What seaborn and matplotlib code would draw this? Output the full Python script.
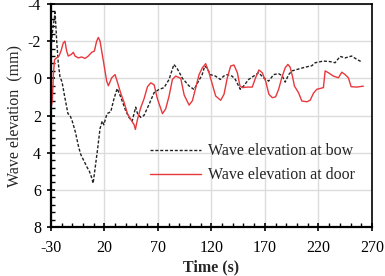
import numpy as np
import pandas as pd
import matplotlib
matplotlib.use("Agg")
import matplotlib.pyplot as plt
from matplotlib.ticker import MultipleLocator
import seaborn as sns

# ---- data ----
bow_t = [-30, -28.5, -26, -24.5, -23, -21.5, -19.5, -17, -14, -12, -10, -7, -4, -2, 1, 4, 6,
         8.5, 9.5, 11, 13.5, 16, 18, 19.5, 22.5, 26, 29, 32, 35.3, 40, 43, 46, 49.3, 51, 54,
         57, 61.8, 66.5, 71, 75.8, 80.5, 85, 88.3, 93, 99, 103.8, 108.5, 111.4, 113.8, 116,
         119, 123.8, 128.4, 131.5, 134.7, 139.3, 142.4, 147, 150.2, 154.8, 159.5, 164.2,
         168.8, 173.5, 178.2, 182.8, 186, 189, 192.2, 195.3, 201.4, 207.6, 213.9, 217,
         224.7, 231, 235.6, 240.3, 245, 251, 256, 260.5]
bow_y = [-1.4, -2.5, -3.55, -2.0, -0.8, -0.1, 0.2, 1.0, 1.9, 2.0, 2.3, 2.9, 3.7, 4.1, 4.45,
         4.8, 5.0, 5.4, 5.65, 5.0, 3.9, 2.7, 2.3, 2.5, 1.9, 1.8, 1.1, 0.55, 1.0, 1.75, 2.1,
         2.3, 1.55, 1.9, 2.1, 2.0, 1.4, 0.77, 0.6, 0.5, 0.06, -0.75, -0.5, 0.0, 0.4, 0.6,
         0.1, -0.2, -0.66, -0.55, -0.2, -0.12, 0.06, -0.12, -0.2, -0.12, 0.06, 0.59, 0.41,
         0.06, -0.12, -0.3, -0.03, 0.15, -0.2, -0.25, -0.15, 0.2, -0.2, -0.4, -0.5, -0.6,
         -0.68, -0.84, -0.93, -0.9, -0.84, -1.18, -1.1, -1.2, -1.02, -0.88]

door_t = [-30, -29.5, -28.6, -27.5, -26.5, -24.6, -22.4, -20.5, -18.4, -16.8, -15.2, -13.7,
          -10.6, -9, -7.4, -4.3, -1.2, 2, 5, 8.2, 10.7, 12.8, 14.4, 16, 19.1, 22.2, 23.8,
          26.9, 30, 32.2, 35.3, 38.5, 41.6, 44.6, 47.8, 49, 51, 54, 57.1, 60.3, 63.4, 66.5,
          69.6, 74.3, 77.3, 80.5, 83.6, 86.7, 91.4, 94.6, 99.2, 102.3, 105.4, 108.5, 111.6,
          114.7, 117.8, 120.9, 124, 128.7, 131.8, 134.9, 138, 141.1, 144.3, 146.7, 148.9,
          153.6, 158.2, 161.3, 164.4, 167.6, 170.7, 173.8, 176.9, 180, 182.8, 185.9, 189,
          191.5, 193.6, 195.8, 197.6, 201.4, 204.5, 209.2, 212.3, 215.4, 218.5, 224.7, 226.3,
          229.4, 234, 238.7, 241.9, 245, 248, 250.6, 255.9, 262]
door_y = [0.3, 1.5, 1.2, -0.3, -1.0, -1.1, -1.2, -1.47, -1.9, -2.0, -1.47, -1.2, -1.3, -1.4,
          -1.2, -1.1, -1.15, -1.07, -1.2, -1.4, -1.47, -2.0, -2.2, -2.0, -0.93, 0.15, 0.4,
          -0.03, -0.2, 0.2, 0.8, 1.3, 1.9, 2.2, 2.5, 2.75, 2.2, 1.58, 1.1, 0.45, 0.24, 0.35,
          1.1, 1.9, 1.65, 0.95, 0.06, -0.12, 0.0, 0.9, 1.44, 1.2, 0.5, -0.2, -0.57, -0.79,
          -0.3, 0.32, 0.95, 1.18, 0.86, -0.03, -0.66, -0.72, -0.3, 0.41, 0.5, 0.47, 0.47,
          -0.03, -0.45, -0.3, 0.15, 0.86, 1.04, 1.0, 0.6, -0.05, -0.57, -0.75, -0.6, -0.1,
          0.41, 0.77, 1.22, 1.26, 1.18, 0.8, 0.59, 0.5, -0.4, -0.3, -0.12, -0.03, -0.33,
          -0.2, -0.03, 0.45, 0.47, 0.42]

series_names = ["Wave elevation at bow", "Wave elevation at door"]
x_ticks = [-30, 20, 70, 120, 170, 220, 270]
y_ticks = [-4, -2, 0, 2, 4, 6, 8]

df = pd.concat([
    pd.DataFrame({"t": bow_t, "y": bow_y, "s": series_names[0]}),
    pd.DataFrame({"t": door_t, "y": door_y, "s": series_names[1]}),
])

sns.set_style("white")
plt.rcParams["font.family"] = ["Liberation Serif", "DejaVu Serif"]
plt.rcParams["axes.unicode_minus"] = False

fig = plt.figure(figsize=(3.85, 2.76), dpi=100)
ax = fig.add_axes([0.132, 0.1775, 0.834, 0.808])

sns.lineplot(data=df, x="t", y="y", hue="s", style="s",
             palette={series_names[0]: "#222222", series_names[1]: "#e8383d"},
             dashes={series_names[0]: (2.2, 1.3), series_names[1]: ""},
             linewidth=1.0, ax=ax, sort=False, estimator=None)

ax.set_xlim(-30, 270)
ax.set_ylim(8, -4)
ax.set_xticks(x_ticks)
ax.set_yticks(y_ticks)
ax.xaxis.set_minor_locator(MultipleLocator(10))
ax.yaxis.set_minor_locator(MultipleLocator(0.4))
ax.tick_params(axis="both", which="major", direction="inout", length=6, width=1.2,
               labelsize=11.5, colors="black")
ax.tick_params(axis="x", which="major", pad=6)
ax.tick_params(axis="y", which="major", pad=4)
ax.tick_params(axis="both", which="minor", direction="in", length=3, width=1.0,
               colors="black")
ax.tick_params(axis="x", which="both", top=False, bottom=True)
ax.tick_params(axis="y", which="both", left=True, right=False)
ax.grid(True, which="major", color="#dcdcdc", linewidth=1.0)
ax.set_axisbelow(True)
for sp in ax.spines.values():
    sp.set_visible(True)
    sp.set_color("black")
    sp.set_linewidth(1.2)
ax.spines["left"].set_linewidth(1.6)
ax.spines["bottom"].set_linewidth(1.6)

ax.set_xlabel("Time (s)", fontsize=11.5, fontweight="bold", labelpad=3)
ax.set_ylabel("Wave elevation  (mm)", fontsize=11.5, labelpad=4)

ax.legend(loc="center left", bbox_to_anchor=(0.285, 0.285), frameon=False,
          fontsize=11.5, handlelength=3.2, handletextpad=0.4, borderpad=0,
          labelspacing=0.5)

fig.savefig("out.png", dpi=100)
